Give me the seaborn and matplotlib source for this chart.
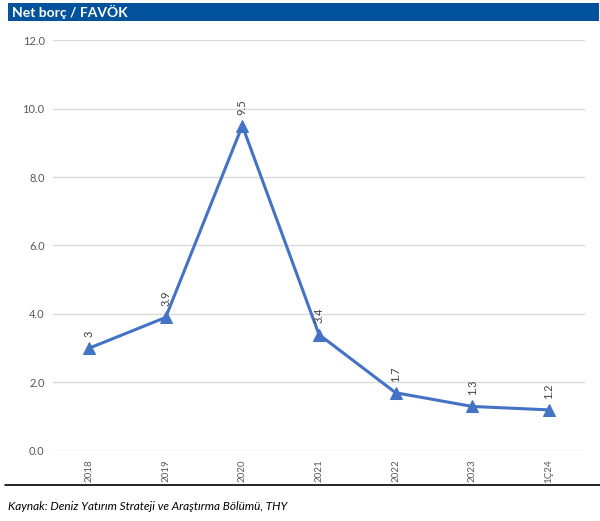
import matplotlib
matplotlib.use("Agg")
import matplotlib.pyplot as plt
import seaborn as sns
import pandas as pd
from matplotlib.patches import Rectangle
from matplotlib.lines import Line2D

periods = ["2018", "2019", "2020", "2021", "2022", "2023", "1Ç24"]
ratio = [3.0, 3.9, 9.5, 3.4, 1.7, 1.3, 1.2]
ratio_labels = ["3", "3.9", "9.5", "3.4", "1.7", "1.3", "1.2"]
y_ticks = [0.0, 2.0, 4.0, 6.0, 8.0, 10.0, 12.0]

title = "Net borç / FAVÖK"
source = "Kaynak: Deniz Yatırım Strateji ve Araştırma Bölümü, THY"

sns.set_theme(style="white")
plt.rcParams["font.family"] = ["Lato", "DejaVu Sans"]

df = pd.DataFrame({"period": periods, "ratio": ratio})
df["pos"] = range(len(df))

fig = plt.figure(figsize=(6.0, 5.21), dpi=100)
ax = fig.add_axes([0.0883, 0.1344, 0.8867, 0.7888])

line_color = "#4472C4"
sns.lineplot(data=df, x="pos", y="ratio", ax=ax, color=line_color,
             linewidth=2.2, marker="^", markersize=8,
             markeredgecolor=line_color, markerfacecolor=line_color)

for x, y, lab in zip(df["pos"], df["ratio"], ratio_labels):
    ax.annotate(lab, (x, y), xytext=(0, 8), textcoords="offset points",
                rotation=90, ha="center", va="bottom", fontsize=8,
                color="#404040")

ax.set_xlim(-0.47, len(periods) - 0.53)
ax.set_ylim(0, 12)
ax.set_yticks(y_ticks)
ax.set_yticklabels([f"{v:.1f}" for v in y_ticks], fontsize=8, color="#595959")
ax.set_xticks(df["pos"])
ax.set_xticklabels(periods, rotation=90, fontsize=7, color="#595959")
ax.tick_params(axis="x", length=0, pad=6)
ax.tick_params(axis="y", length=0, pad=6)
ax.grid(axis="y", color="#D9D9D9", linewidth=1)
ax.set_axisbelow(True)
for side in ["top", "right", "left", "bottom"]:
    ax.spines[side].set_visible(False)
ax.set_xlabel("")
ax.set_ylabel("")

# header band
fig.patches.append(Rectangle((8 / 600, 1 - 21 / 521), 591 / 600, 18 / 521,
                             transform=fig.transFigure, facecolor="#02539C",
                             edgecolor="none"))
fig.text(12 / 600, 1 - 12 / 521, title, color="white", fontsize=10,
         fontweight="bold", va="center", ha="left")

# footer rule and source note
fig.lines.append(Line2D([5 / 600, 1.0], [1 - 485 / 521, 1 - 485 / 521],
                        transform=fig.transFigure, color="black", linewidth=1.2))
fig.text(8 / 600, 1 - 507 / 521, source, fontsize=8.5, style="italic",
         color="black", va="center", ha="left")

fig.savefig("out.png", dpi=100)
